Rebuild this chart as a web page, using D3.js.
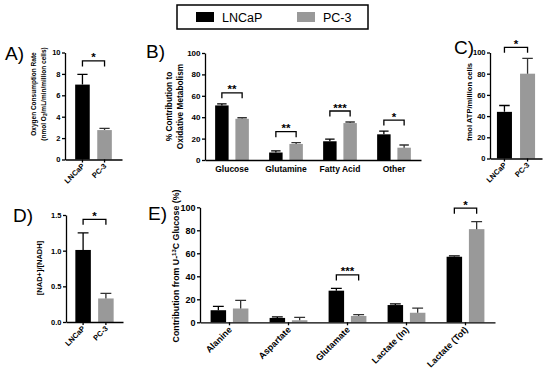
<!DOCTYPE html>
<html lang="en">
<head>
<meta charset="UTF-8">
<script src="https://d3js.org/d3.v7.min.js"></script>
<style>
  body { margin: 0; background: #fff; }
  svg { display: block; font-family: "Liberation Sans", Arial, sans-serif; }
  .axis path, .axis line { stroke: #000; stroke-width: 1.3; }
  .axis text { font-weight: bold; fill: #000; font-family: "Liberation Sans", Arial, sans-serif; }
</style>
<title>LNCaP vs PC-3 metabolism</title>
</head>
<body>
<div id="fig"></div>
<script>
// ---- data ----
const cellLines = ["LNCaP", "PC-3"];

// A) oxygen consumption rate
const ocr = [7.0, 2.75];
const ocrErr = [0.95, 0.15];
const ocrTicks = [0, 2, 4, 6, 8, 10];

// B) % contribution to oxidative metabolism
const substrates = ["Glucose", "Glutamine", "Fatty Acid", "Other"];
const oxLNCaP = [51, 7, 17.5, 24];
const oxLNCaPErr = [1.5, 1.5, 2, 3];
const oxPC3 = [38.5, 15, 34.5, 11.5];
const oxPC3Err = [1, 1.2, 1, 2.5];
const oxSig = ["**", "**", "***", "*"];
const pctTicks = [0, 20, 40, 60, 80, 100];

// C) ATP
const atp = [44, 80];
const atpErr = [6, 14.5];

// D) NAD+/NADH
const nadRatio = [1.01, 0.33];
const nadErr = [0.24, 0.07];
const nadTicks = [0, 0.5, 1.0, 1.5];

// E) contribution from U-13C glucose
const metabolites = ["Alanine", "Aspartate", "Glutamate", "Lactate (In)", "Lactate (Tot)"];
const glcLNCaP = [10.5, 3.8, 27.5, 15, 57];
const glcLNCaPErr = [3.3, 1, 2, 1, 0.8];
const glcPC3 = [12, 1.8, 5.5, 8.3, 81];
const glcPC3Err = [7, 2.4, 1.2, 4, 6.5];
const glcSig = [null, null, "***", null, "*"];

// ---- setup ----
const svg = d3.select("#fig").append("svg")
    .attr("width", 550)
    .attr("height", 372);

const barColor = d3.scaleOrdinal().domain(cellLines).range(["#000000", "#999999"]);
const errColor = d3.scaleOrdinal().domain(cellLines).range(["#000000", "#333333"]);

// rotated axis title, cx is the visual centre of the glyphs
function yLabel(cx, cy, fs, build) {
    const t = svg.append("text")
        .attr("transform", `translate(${cx + fs * 0.36},${cy}) rotate(-90)`)
        .attr("text-anchor", "middle")
        .style("font-size", fs + "px")
        .style("font-weight", "bold");
    build(t);
}

function panelLetter(txt, x, y) {
    svg.append("text").attr("x", x).attr("y", y)
        .style("font-size", "19px")
        .text(txt);
}

// bars + error bars + axes + brackets, shared by every panel
function drawPanel(cfg, bars, xAxisScale, labelPos) {
    const y = d3.scaleLinear().domain(cfg.domain).range(cfg.yr);

    const g = svg.append("g");
    g.selectAll(".bar")
        .data(bars)
        .enter().append("rect")
        .attr("x", d => d.x)
        .attr("width", d => d.w)
        .attr("y", d => y(d.v))
        .attr("height", d => y(0) - y(d.v))
        .attr("fill", d => barColor(d.s));

    // error bars, upper only
    g.selectAll(".err")
        .data(bars)
        .enter().append("path")
        .attr("d", d => {
            const cx = d.x + d.w / 2, cap = d.w * 0.35;
            return `M${cx},${y(d.v)}V${y(d.v + d.e)}M${cx - cap},${y(d.v + d.e)}H${cx + cap}`;
        })
        .attr("fill", "none")
        .attr("stroke", d => errColor(d.s))
        .attr("stroke-width", 1.3);

    // axes
    svg.append("g").attr("class", "axis")
        .attr("transform", `translate(${cfg.xr[0]},0)`)
        .call(d3.axisLeft(y).tickValues(cfg.ticks).tickFormat(d3.format(cfg.fmt))
            .tickSize(3).tickSizeOuter(0).tickPadding(1.5))
        .call(a => a.selectAll("text").style("font-size", cfg.tickFs + "px"));

    svg.append("g").attr("class", "axis")
        .attr("transform", `translate(0,${cfg.yr[0]})`)
        .call(d3.axisBottom(xAxisScale).tickSize(cfg.xTick ? 3 : 0).tickSizeOuter(0).tickFormat(""));

    // category labels
    labelPos.forEach(p => {
        const t = svg.append("text")
            .style("font-size", cfg.labelFs + "px")
            .style("font-weight", "bold")
            .text(p.text);
        if (cfg.flat) {
            t.attr("x", p.cx).attr("y", cfg.yr[0] + 12).attr("text-anchor", "middle");
        } else {
            t.attr("text-anchor", "end")
                .attr("transform", `translate(${p.cx + cfg.rotDx},${cfg.yr[0] + cfg.rotDy}) rotate(-45)`);
        }
    });

    // significance brackets
    cfg.sig.forEach(s => {
        if (!s.label) return;
        const top = y(d3.max(s.pair, d => d.v + d.e)) - cfg.gap;
        const xa = s.pair[0].x + s.pair[0].w / 2;
        const xb = s.pair[1].x + s.pair[1].w / 2;
        svg.append("path")
            .attr("d", `M${xa},${top + 5.5}V${top}H${xb}V${top + 5.5}`)
            .attr("fill", "none")
            .attr("stroke", "#000")
            .attr("stroke-width", 1.3);
        svg.append("text")
            .attr("x", (xa + xb) / 2).attr("y", top + 0.5)
            .attr("text-anchor", "middle")
            .style("font-size", "11.5px")
            .style("font-weight", "bold")
            .text(s.label);
    });
}

// two bars, one per cell line
function simplePanel(cfg, vals, errs, sig) {
    const x = d3.scaleBand().domain(cellLines).range(cfg.xr)
        .paddingInner(cfg.pi).paddingOuter(cfg.po);
    const bars = cellLines.map((s, i) => ({ s, x: x(s), w: x.bandwidth(), v: vals[i], e: errs[i] }));
    cfg.sig = [{ label: sig, pair: bars }];
    const labels = cellLines.map(s => ({ text: s, cx: x(s) + x.bandwidth() / 2 }));
    drawPanel(cfg, bars, x, labels);
}

// grouped bars, categories x cell lines
function groupedPanel(cfg, groups, series, errs, sig) {
    const x0 = d3.scaleBand().domain(groups).range(cfg.xr);
    const x1 = d3.scaleBand().domain(cellLines).range([0, x0.bandwidth()])
        .paddingInner(cfg.pi).paddingOuter(cfg.po);
    const bars = [];
    cfg.sig = [];
    groups.forEach((c, i) => {
        const pair = cellLines.map((s, j) => ({ s, x: x0(c) + x1(s), w: x1.bandwidth(), v: series[j][i], e: errs[j][i] }));
        bars.push(...pair);
        cfg.sig.push({ label: sig[i], pair });
    });
    const labels = groups.map(c => ({ text: c, cx: x0(c) + x0.bandwidth() / 2 }));
    drawPanel(cfg, bars, x0, labels);
}

// ---- legend ----
svg.append("rect")
    .attr("x", 177).attr("y", 5).attr("width", 191).attr("height", 24)
    .attr("fill", "#fff").attr("stroke", "#000").attr("stroke-width", 1.5);
const legendX = [196, 297];
cellLines.forEach((s, i) => {
    svg.append("rect").attr("x", legendX[i]).attr("y", 12).attr("width", 18).attr("height", 10)
        .attr("fill", barColor(s));
    svg.append("text").attr("x", legendX[i] + 26).attr("y", 21.7)
        .style("font-size", "12.5px").text(s);
});

// ---- A ----
panelLetter("A)", 5, 59.5);
yLabel(33.3, 94, 6.5, t => t.text("Oxygen Consumption Rate"));
yLabel(43.3, 94, 6.5, t => {
    t.append("tspan").text("(nmol O");
    t.append("tspan").attr("dy", 1.5).style("font-size", "4.8px").text("2");
    t.append("tspan").attr("dy", -1.5).text("/mL/min/million cells)");
});
simplePanel({
    xr: [65, 122], yr: [159.5, 52.5], domain: [0, 10], ticks: ocrTicks, fmt: "d",
    tickFs: 7.5, labelFs: 7.5, pi: 0.34, po: 0.46, gap: 13.5, xTick: true,
    rotDx: 2.5, rotDy: 7
}, ocr, ocrErr, "*");

// ---- B ----
panelLetter("B)", 146, 57.5);
yLabel(169.3, 106.5, 8.3, t => t.text("% Contribution to"));
yLabel(179.7, 106.5, 8.3, t => t.text("Oxidative Metabolism"));
groupedPanel({
    xr: [205, 421], yr: [160, 53], domain: [0, 100], ticks: pctTicks, fmt: "d",
    tickFs: 8, labelFs: 8.5, pi: 0.335, po: 0.5, gap: 11, xTick: false, flat: true
}, substrates, [oxLNCaP, oxPC3], [oxLNCaPErr, oxPC3Err], oxSig);

// ---- C ----
panelLetter("C)", 454, 54);
yLabel(469, 102, 7.6, t => t.text("fmol ATP/million cells"));
simplePanel({
    xr: [490, 542], yr: [158.5, 52.5], domain: [0, 100], ticks: pctTicks, fmt: "d",
    tickFs: 7.5, labelFs: 7.5, pi: 0.35, po: 0.3, gap: 11, xTick: true,
    rotDx: 2.5, rotDy: 7
}, atp, atpErr, "*");

// ---- D ----
panelLetter("D)", 13, 222);
yLabel(39, 268, 7.5, t => t.text("[NAD+]/[NADH]"));
simplePanel({
    xr: [66, 123], yr: [322, 215], domain: [0, 1.5], ticks: nadTicks, fmt: ".1f",
    tickFs: 7.5, labelFs: 7.5, pi: 0.32, po: 0.41, gap: 13.5, xTick: true,
    rotDx: 2.5, rotDy: 7
}, nadRatio, nadErr, "*");

// ---- E ----
panelLetter("E)", 148, 220);
yLabel(175.5, 266, 8.8, t => {
    t.append("tspan").text("Contribution from U-");
    t.append("tspan").attr("dy", -3).style("font-size", "6px").text("13");
    t.append("tspan").attr("dy", 3).text("C Glucose (%)");
});
groupedPanel({
    xr: [200, 495], yr: [322.3, 207.3], domain: [0, 100], ticks: pctTicks, fmt: "d",
    tickFs: 9, labelFs: 9, pi: 0.305, po: 0.475, gap: 13.5, xTick: true,
    rotDx: 3, rotDy: 8
}, metabolites, [glcLNCaP, glcPC3], [glcLNCaPErr, glcPC3Err], glcSig);
</script>
</body>
</html>
